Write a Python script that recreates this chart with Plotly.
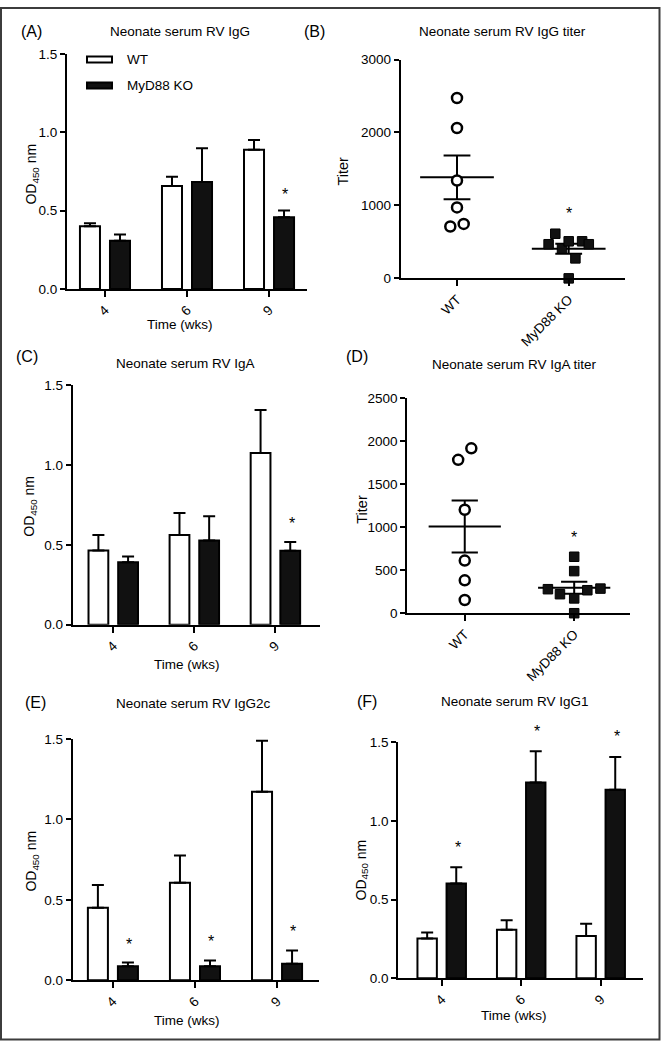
import numpy as np
import plotly.graph_objects as go

W, H = 661, 1050

weeks = ['4', '6', '9']
groups = ['WT', 'MyD88 KO']

# (A) IgG OD450
igg_wt = [0.40, 0.657, 0.888]
igg_wt_sem = [0.02, 0.059, 0.063]
igg_ko = [0.307, 0.682, 0.458]
igg_ko_sem = [0.04, 0.217, 0.042]

# (C) IgA OD450
iga_wt = [0.464, 0.561, 1.073]
iga_wt_sem = [0.097, 0.138, 0.269]
iga_ko = [0.39, 0.526, 0.462]
iga_ko_sem = [0.037, 0.152, 0.056]

# (E) IgG2c OD450
igg2c_wt = [0.45, 0.607, 1.173]
igg2c_wt_sem = [0.143, 0.168, 0.317]
igg2c_ko = [0.086, 0.086, 0.102]
igg2c_ko_sem = [0.024, 0.037, 0.082]

# (F) IgG1 OD450
igg1_wt = [0.253, 0.309, 0.269]
igg1_wt_sem = [0.037, 0.059, 0.078]
igg1_ko = [0.602, 1.245, 1.199]
igg1_ko_sem = [0.104, 0.198, 0.207]

# (B) IgG titer
igg_titer_wt = [2473, 2062, 1342, 973, 711, 747]
igg_titer_wt_jitter = [0, 0, 0, 0, -0.06, 0.06]
igg_titer_ko = [612, 468, 409, 508, 508, 468, 274, 0]
igg_titer_ko_jitter = [-0.12, -0.18, -0.06, 0, 0.12, 0.18, 0.06, 0]

# (D) IgA titer
iga_titer_wt = [1916, 1782, 1202, 611, 382, 153]
iga_titer_wt_jitter = [0.06, -0.06, 0, 0, 0, 0]
iga_titer_ko = [656, 489, 279, 221, 172, 267, 286, 0]
iga_titer_ko_jitter = [0, 0, -0.24, -0.13, 0, 0.12, 0.24, 0]

# significance marks: (group index, y)
stars_bar = {
    'A': [(2, 0.60)],
    'C': [(2, 0.63)],
    'E': [(0, 0.225), (1, 0.243), (2, 0.305)],
    'F': [(0, 0.83), (1, 1.57), (2, 1.54)],
}
stars_titer = {'B': 890, 'D': 878}

FONT = 'Liberation Sans, Arial, Helvetica, sans-serif'

fig = go.Figure()

panels = {
    'A': dict(ax='', x0=67, x1=307, yt=47.7, yb=286, xr=[-0.463, 2.463], yr=[0, 1.5]),
    'B': dict(ax='2', x0=400.7, x1=625, yt=53.3, yb=275.3, xr=[-0.504, 1.504], yr=[0, 3000]),
    'C': dict(ax='3', x0=72.7, x1=320, yt=383.3, yb=626.7, xr=[-0.50, 2.55], yr=[0, 1.5]),
    'D': dict(ax='4', x0=407.3, x1=630, yt=396.7, yb=615, xr=[-0.525, 1.51], yr=[0, 2500]),
    'E': dict(ax='5', x0=72.7, x1=319.3, yt=742.7, yb=987.3, xr=[-0.49, 2.515], yr=[0, 1.5]),
    'F': dict(ax='6', x0=398.3, x1=643.3, yt=746, yb=985.3, xr=[-0.546, 2.536], yr=[0, 1.5]),
}

bar_data = {
    'A': (igg_wt, igg_wt_sem, igg_ko, igg_ko_sem),
    'C': (iga_wt, iga_wt_sem, iga_ko, iga_ko_sem),
    'E': (igg2c_wt, igg2c_wt_sem, igg2c_ko, igg2c_ko_sem),
    'F': (igg1_wt, igg1_wt_sem, igg1_ko, igg1_ko_sem),
}

xpos = list(range(len(weeks)))
annotations = []
shapes = []


def err(arr):
    return dict(type='data', symmetric=False, array=arr, arrayminus=[0] * len(arr),
                color='black', thickness=2, width=6)


def star(x, y, key):
    p = panels[key]
    a = p['ax']
    annotations.append(dict(text='*', x=x, xref='x' + a,
                            y=(y - p['yr'][0]) / (p['yr'][1] - p['yr'][0]),
                            yref=('y' + a + ' domain'), showarrow=False,
                            xanchor='center', yanchor='middle',
                            font=dict(size=16, color='black', family=FONT)))


for key, (wt, wts, ko, kos) in bar_data.items():
    a = panels[key]['ax']
    fig.add_trace(go.Bar(x=xpos, y=wt, error_y=err(wts), name='WT',
                         marker=dict(color='white', line=dict(color='black', width=2)),
                         xaxis='x' + a, yaxis='y' + a, showlegend=False))
    fig.add_trace(go.Bar(x=xpos, y=ko, error_y=err(kos), name='MyD88 KO',
                         marker=dict(color='#111111', line=dict(color='black', width=2)),
                         xaxis='x' + a, yaxis='y' + a, showlegend=False))
    for gi, yv in stars_bar[key]:
        star(xpos[gi] + 0.2, yv, key)

titer_data = {
    'B': (igg_titer_wt, igg_titer_wt_jitter, igg_titer_ko, igg_titer_ko_jitter),
    'D': (iga_titer_wt, iga_titer_wt_jitter, iga_titer_ko, iga_titer_ko_jitter),
}

for key, (wt, wtj, ko, koj) in titer_data.items():
    a = panels[key]['ax']
    for gi, vals in enumerate([wt, ko]):
        v = np.array(vals, dtype=float)
        m = v.mean()
        s = v.std(ddof=1) / np.sqrt(len(v))
        lx = [gi - 0.33, gi + 0.33, None, gi, gi, None,
              gi - 0.12, gi + 0.12, None, gi - 0.12, gi + 0.12]
        ly = [m, m, None, m - s, m + s, None, m + s, m + s, None, m - s, m - s]
        fig.add_trace(go.Scatter(x=lx, y=ly, mode='lines', line=dict(color='black', width=2),
                                 xaxis='x' + a, yaxis='y' + a, showlegend=False,
                                 cliponaxis=False, hoverinfo='skip'))
    fig.add_trace(go.Scatter(x=[0 + j for j in wtj], y=wt, mode='markers',
                             marker=dict(symbol='circle', size=10, color='white',
                                         line=dict(color='black', width=2.5)),
                             xaxis='x' + a, yaxis='y' + a, showlegend=False, cliponaxis=False))
    fig.add_trace(go.Scatter(x=[1 + j for j in koj], y=ko, mode='markers',
                             marker=dict(symbol='square', size=9.5, color='#111111',
                                         line=dict(color='black', width=1)),
                             xaxis='x' + a, yaxis='y' + a, showlegend=False, cliponaxis=False))
    star(1, stars_titer[key], key)

layout_axes = {}
for key, p in panels.items():
    a = p['ax']
    is_bar = key in bar_data
    layout_axes['xaxis' + a] = dict(
        domain=[p['x0'] / W, p['x1'] / W], range=p['xr'], anchor='y' + a,
        showline=True, linecolor='black', linewidth=2, ticks='outside', ticklen=6,
        tickwidth=2, tickcolor='black', showgrid=False, zeroline=False,
        tickvals=xpos if is_bar else [0, 1], ticktext=weeks if is_bar else groups,
        tickangle=-45, tickfont=dict(size=13.5, color='black', family=FONT))
    if is_bar:
        tv = [0, 0.5, 1.0, 1.5]
        fmt = '.1f'
    else:
        step = 1000 if key == 'B' else 500
        tv = list(range(0, int(p['yr'][1]) + 1, step))
        fmt = 'd'
    layout_axes['yaxis' + a] = dict(
        domain=[1 - p['yb'] / H, 1 - p['yt'] / H], range=p['yr'], anchor='x' + a,
        showline=True, linecolor='black', linewidth=2, ticks='outside', ticklen=5,
        tickwidth=2, tickcolor='black', showgrid=False, zeroline=False,
        tickvals=tv, tickformat=fmt, tickfont=dict(size=13.5, color='black', family=FONT))


def pann(text, x, y, size=13.5, angle=0):
    annotations.append(dict(text=text, x=x / W, y=1 - y / H, xref='paper', yref='paper',
                            showarrow=False, xanchor='center', yanchor='middle',
                            textangle=angle, font=dict(size=size, color='black', family=FONT)))


for t, x, y in [('(A)', 31, 25), ('(B)', 314, 25), ('(C)', 27, 355),
                ('(D)', 357, 355), ('(E)', 35, 706), ('(F)', 367, 705)]:
    pann(t, x, y, size=16)

for t, x, y in [('Neonate serum RV IgG', 180, 25), ('Neonate serum RV IgG titer', 502, 25),
                ('Neonate serum RV IgA', 186, 362), ('Neonate serum RV IgA titer', 514, 363),
                ('Neonate serum RV IgG2c', 193, 707), ('Neonate serum RV IgG1', 515, 705)]:
    pann(t, x, y)

for x, y in [(180, 322), (187, 667), (187, 1028), (514, 1023)]:
    pann('Time (wks)', x, y)

for x, y in [(32, 170), (30, 507), (32, 867), (362, 876)]:
    pann('OD<sub>450</sub> nm', x, y, size=14, angle=-90)
for x, y in [(343, 167), (362, 510)]:
    pann('Titer', x, y, size=14.5, angle=-90)

# legend (panel A)
for label, fill, y in [('WT', 'white', 53.3), ('MyD88 KO', '#111111', 79.7)]:
    shapes.append(dict(type='rect', xref='paper', yref='paper',
                       x0=87 / W, x1=112 / W, y0=1 - (y + 3) / H, y1=1 - (y - 3) / H,
                       line=dict(color='black', width=2), fillcolor=fill))
    annotations.append(dict(text=label, x=125 / W, y=1 - y / H, xref='paper', yref='paper',
                            showarrow=False, xanchor='left', yanchor='middle',
                            font=dict(size=13.5, color='black', family=FONT)))

# outer frame
shapes.append(dict(type='rect', xref='paper', yref='paper',
                   x0=1 / W, x1=659.5 / W, y0=1 - 1047.5 / H, y1=1 - 1 / H,
                   line=dict(color='#3c3c3c', width=2), fillcolor='rgba(0,0,0,0)'))

fig.update_layout(
    width=W, height=H, margin=dict(l=0, r=0, t=0, b=0),
    paper_bgcolor='white', plot_bgcolor='white',
    barmode='group', bargap=0.268, bargroupgap=0.333,
    font=dict(family=FONT, color='black'),
    annotations=annotations, shapes=shapes, showlegend=False,
    **layout_axes)

fig.write_html('out.html', config={'displayModeBar': False},
               post_script="document.body.style.margin='0';document.body.style.padding='0';"
                           "document.body.style.overflow='hidden';")
